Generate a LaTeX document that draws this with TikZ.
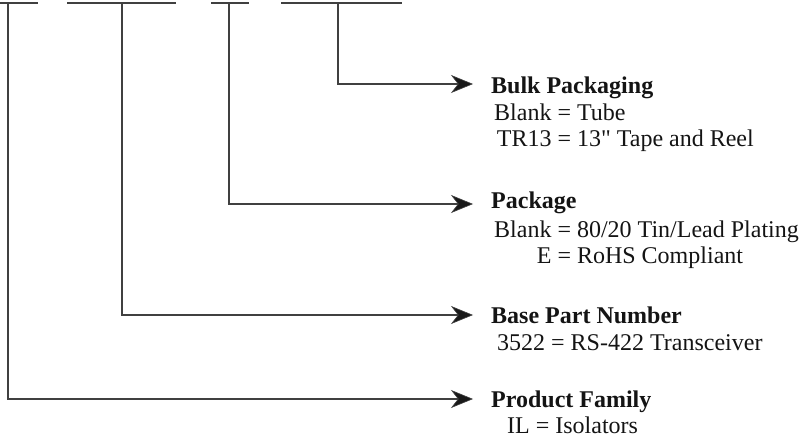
\documentclass[tikz,border=0pt]{standalone}
\usepackage{fontspec}
\setmainfont{Liberation Serif}[Ligatures=TeXOff]
\usetikzlibrary{arrows.meta}
\begin{document}
\begin{tikzpicture}[x=1pt,y=-1pt,
  ln/.style={line width=1.3pt,draw=black!75},
  arr/.style={ln,-{Stealth[length=22pt,width=18pt,inset=7pt,fill=black!90,line width=0.6pt]}},
  hd/.style={anchor=base west,inner sep=0pt,font=\fontsize{24}{26}\selectfont\bfseries,text=black!92},
  bd/.style={anchor=base west,inner sep=0pt,font=\fontsize{24}{26}\selectfont,text=black!92}]
\useasboundingbox (0,0) rectangle (804,441);
% top slots
\coordinate (s1a) at (0,3);   \coordinate (s1b) at (38,3);
\coordinate (s2a) at (67,3);  \coordinate (s2b) at (176,3);
\coordinate (s3a) at (211,3); \coordinate (s3b) at (249,3);
\coordinate (s4a) at (281,3); \coordinate (s4b) at (402,3);
\draw[ln] (s1a) -- (s1b);
\draw[ln] (s2a) -- (s2b);
\draw[ln] (s3a) -- (s3b);
\draw[ln] (s4a) -- (s4b);
\coordinate (v1) at (8,3);
\coordinate (v2) at (122,3);
\coordinate (v3) at (229,3);
\coordinate (v4) at (338,3);
% headings
\node[hd] (h4) at (491,94) {Bulk Packaging};
\node[hd] (h3) at (491,209) {Package};
\node[hd] (h2) at (491,323) {Base Part Number};
\node[hd] (h1) at (491,407) {Product Family};
% bodies
\node[bd] (b4) at (494,121) {\begin{tabular}[t]{@{}r@{ = }l@{}}Blank & Tube\\ TR13 & 13" Tape and Reel\end{tabular}};
\node[bd] (b3) at (494,237) {\begin{tabular}[t]{@{}r@{ = }l@{}}Blank & 80/20 Tin/Lead Plating\\ E & RoHS Compliant\end{tabular}};
\node[bd] (b2) at (497,350) {3522 = RS-422 Transceiver};
\node[bd] (b1) at (507,433) {IL = Isolators};
% connectors
\coordinate (e4) at (473,84);
\coordinate (e3) at (473,204);
\coordinate (e2) at (473,315);
\coordinate (e1) at (473,399);
\draw[arr] (v4) |- (e4);
\draw[arr] (v3) |- (e3);
\draw[arr] (v2) |- (e2);
\draw[arr] (v1) |- (e1);
\end{tikzpicture}
\end{document}
